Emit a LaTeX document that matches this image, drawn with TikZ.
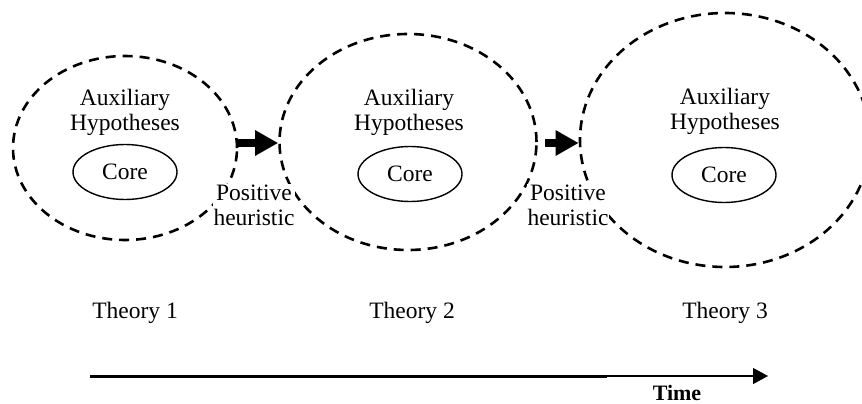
\documentclass[tikz,border=0pt]{standalone}
\usepackage{fontspec}
\setmainfont{Liberation Serif}
\usetikzlibrary{shapes.geometric,arrows.meta}

\begin{document}
\begin{tikzpicture}[x=1pt,y=-1pt,
    programme/.style={draw,ellipse,dashed,dash pattern=on 10pt off 7pt,line width=2.6pt,inner sep=0pt},
    core/.style={draw,ellipse,line width=1.4pt,minimum width=104pt,minimum height=55pt,font=\fontsize{23.5}{25}\selectfont},
    words/.style={align=center,font=\fontsize{23.5}{25}\selectfont},
    heuristic arrow/.style={line width=8pt,-{Triangle[length=23pt,width=24pt]}}]
  \useasboundingbox (0,0) rectangle (862,404);
  % research programme, one theory after the other
  \node[programme,minimum width=224pt,minimum height=184pt] at (125,148) (theory a) {};
  \node[programme,minimum width=257pt,minimum height=216pt] at (408,142) (theory b) {};
  \node[programme,minimum width=290pt,minimum height=254pt] at (725,140) (theory c) {};
  \node[words] at (125,112) (aux a) {Auxiliary\\Hypotheses};
  \node[words] at (409,112) (aux b) {Auxiliary\\Hypotheses};
  \node[words] at (725,111) (aux c) {Auxiliary\\Hypotheses};
  \node[core] at (125,172) (core a) {Core};
  \node[core] at (410,174) (core b) {Core};
  \node[core] at (724,175) (core c) {Core};
  \node[words,fill=white,inner sep=1pt] at (254,205) (heur a) {Positive\\heuristic};
  \node[words,fill=white,inner sep=1pt] at (568,205) (heur b) {Positive\\heuristic};
  \draw[heuristic arrow] (theory a.east |- 0,143) -- (theory b.west |- 0,143);
  \draw[heuristic arrow] (545,143) -- (theory c.west |- 0,143);
  \node[words] at (135,313) (name a) {Theory 1};
  \node[words] at (412,313) (name b) {Theory 2};
  \node[words] at (725,313) (name c) {Theory 3};
  % time axis
  \coordinate (time start) at (90,376);
  \coordinate (time mid) at (607,376);
  \coordinate (time end) at (768,376);
  \draw[line width=3pt] (time start) -- (time mid);
  \draw[line width=1.2pt,-{Triangle[length=15pt,width=16pt]}] (time mid) -- (time end);
  \node[font=\fontsize{22}{24}\selectfont\bfseries,anchor=base,inner sep=0pt] at (677,400) (time) {Time};
\end{tikzpicture}
\end{document}
